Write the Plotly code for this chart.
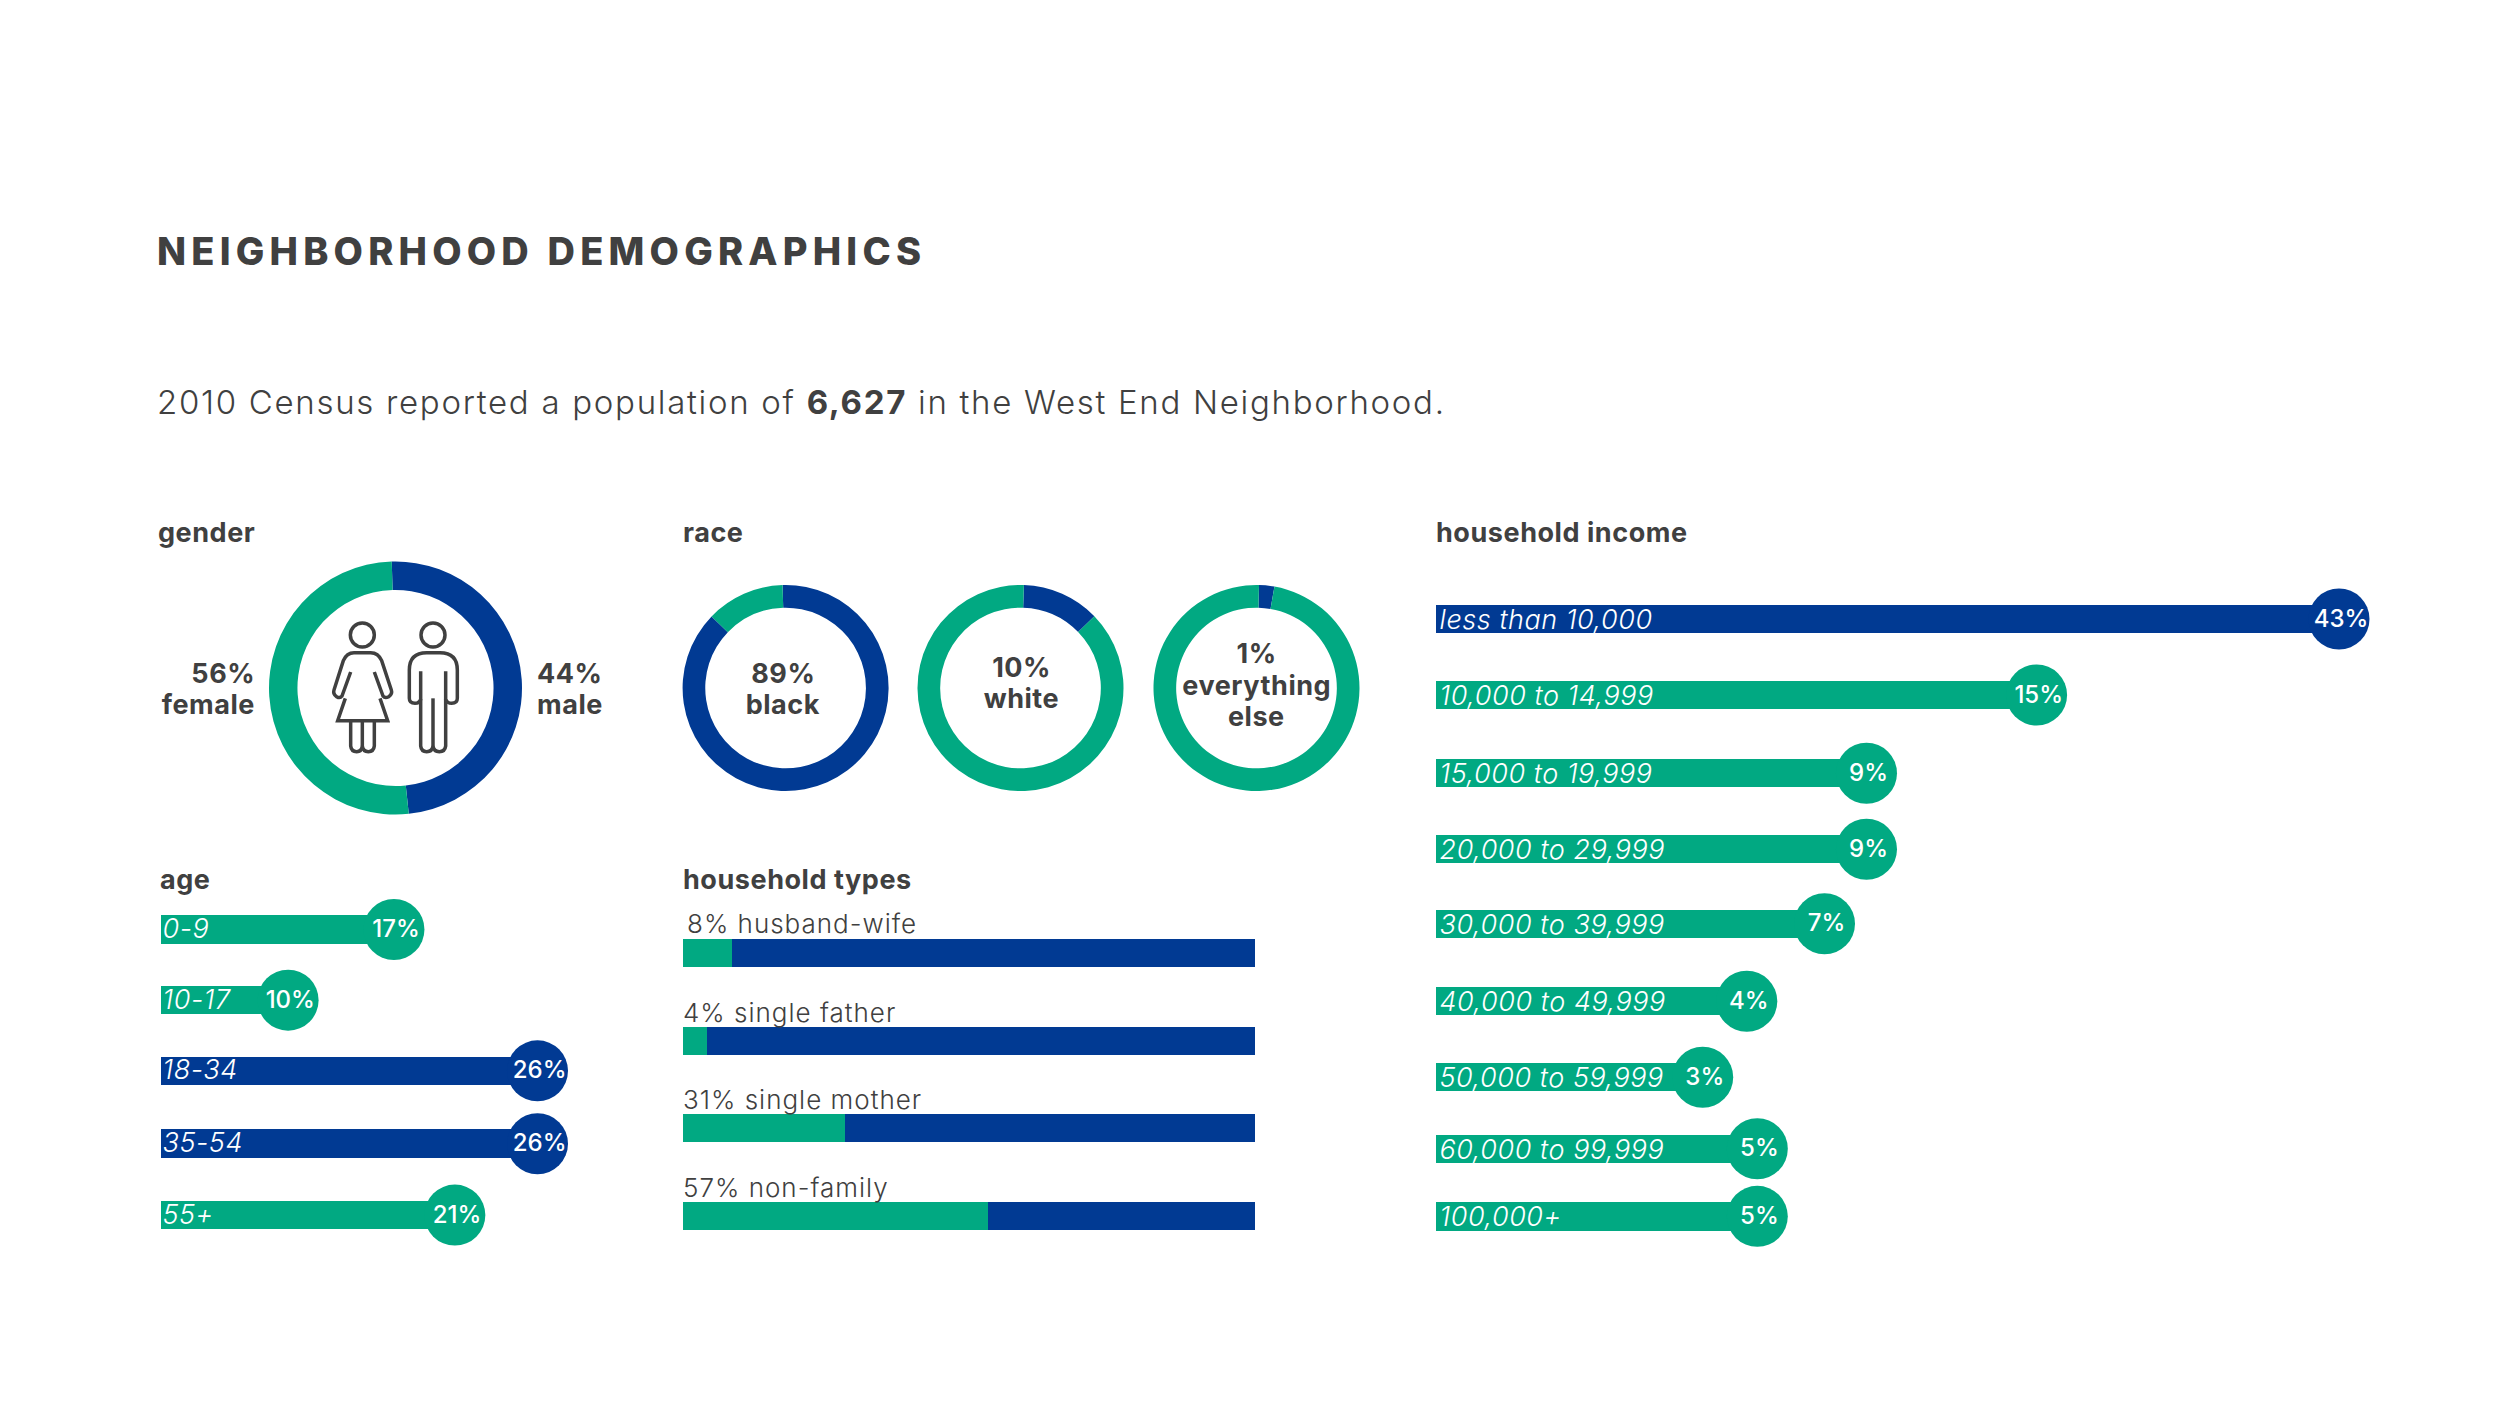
import plotly.graph_objects as go

W, H = 2500, 1406
GREEN = "#01A982"
BLUE = "#013A93"
INK = "#404040"
FONT = "Inter"

# ---------- data ----------
title_text = "NEIGHBORHOOD DEMOGRAPHICS"
subtitle_text = "2010 Census reported a population of <b>6,627</b> in the West End Neighborhood."

gender_labels = ["male", "female"]
gender_stated = [44, 56]
gender_drawn = [48.8, 51.2]

race_black_drawn = [87.7, 12.3]
race_white_drawn = [12.2, 87.8]
race_other_drawn = [2.4, 97.6]

age_groups = ["0-9", "10-17", "18-34", "35-54", "55+"]
age_stated = ["17%", "10%", "26%", "26%", "21%"]
age_drawn = [16.1, 8.8, 26.0, 26.0, 20.3]
age_rows = [0, 0.99, 1.98, 3.0, 4.0]
age_colors = [GREEN, GREEN, BLUE, BLUE, GREEN]

household_types = ["8% husband-wife", "4% single father", "31% single mother", "57% non-family"]
household_drawn = [8.7, 4.2, 28.3, 53.4]
household_rest = [91.3, 95.8, 71.7, 46.6]
household_rows = [0, 1, 1.99, 2.99]

income_groups = ["less than 10,000", "10,000 to 14,999", "15,000 to 19,999", "20,000 to 29,999",
                 "30,000 to 39,999", "40,000 to 49,999", "50,000 to 59,999", "60,000 to 99,999", "100,000+"]
income_stated = ["43%", "15%", "9%", "9%", "7%", "4%", "3%", "5%", "5%"]
income_drawn = [43.0, 28.6, 20.5, 20.5, 18.5, 14.8, 12.7, 15.3, 15.3]
income_rows = [0, 1, 2.03, 3.03, 4.01, 5.03, 6.03, 6.97, 7.86]
income_colors = [BLUE] + [GREEN] * 8

fig = go.Figure()


def pxx(x):
    return x / W


def pxy(y):
    return 1 - y / H


def panel(n, x0, scale, xunits, y0, pitch, nrows):
    """Axis pair n: x unit = scale px from x0; row 0 centred at y0, rows pitch px apart."""
    top = y0 - pitch / 2
    bottom = y0 + (nrows - 0.5) * pitch
    fig.layout[f"xaxis{n}"] = dict(domain=[pxx(x0), pxx(x0 + scale * xunits)], range=[0, xunits],
                                   visible=False, anchor=f"y{n}", fixedrange=True)
    fig.layout[f"yaxis{n}"] = dict(domain=[pxy(bottom), pxy(top)], range=[nrows - 0.5, -0.5],
                                   visible=False, anchor=f"x{n}", fixedrange=True)


def lollipop(n, names, stated, drawn, rows, colors, barw, label_x, name_dy, val_dy, name_size, val_size, val_dx):
    ax = dict(xaxis=f"x{n}", yaxis=f"y{n}")
    fig.add_trace(go.Bar(x=drawn, y=rows, orientation="h", width=barw, marker=dict(color=colors, line_width=0),
                         hoverinfo="skip", **ax))
    fig.add_trace(go.Scatter(x=drawn, y=rows, mode="markers", marker=dict(size=61, color=colors, line_width=0),
                             cliponaxis=False, hoverinfo="skip", **ax))
    fig.add_trace(go.Scatter(x=[d + val_dx for d in drawn], y=[r + val_dy for r in rows], mode="text", text=stated,
                             textposition="middle center", cliponaxis=False, hoverinfo="skip",
                             textfont=dict(family=FONT, size=val_size, color="white", weight=500), **ax))
    fig.add_trace(go.Scatter(x=[label_x] * len(names), y=[r + name_dy for r in rows], mode="text", text=names,
                             textposition="middle right", cliponaxis=False, hoverinfo="skip",
                             textfont=dict(family=FONT, size=name_size, color="white", style="italic", weight=300), **ax))


def donut(values, colors, cx, cy, r, hole, rotation):
    fig.add_trace(go.Pie(values=values, marker=dict(colors=colors, line_width=0), hole=hole, sort=False,
                         direction="clockwise", rotation=rotation, textinfo="none", hoverinfo="skip",
                         domain=dict(x=[pxx(cx - r), pxx(cx + r)], y=[pxy(cy + r), pxy(cy - r)])))


# ---------- donuts ----------
donut(gender_drawn, [BLUE, GREEN], 395.5, 688, 126.5, 0.775, -1.7)
donut(race_black_drawn, [BLUE, GREEN], 785.6, 688, 103, 0.78, -1.7)
donut(race_white_drawn, [BLUE, GREEN], 1020.5, 688, 103, 0.78, 1.9)
donut(race_other_drawn, [BLUE, GREEN], 1256.5, 688, 103, 0.78, 1.4)

# ---------- bars ----------
panel(1, 160.5, 14.5, 30, 929.5, 71.4, 5)
lollipop(1, age_groups, age_stated, age_drawn, age_rows, age_colors, 0.4, 0.14, 0.025, 0.02, 27, 24, 0.15)

panel(2, 1436, 21, 46, 619, 76, 9)
lollipop(2, income_groups, income_stated, income_drawn, income_rows, income_colors, 0.372, 0.17, 0.04, 0.02, 27, 24, 0.1)

panel(3, 682.5, 5.725, 100, 953, 88, 4)
fig.add_trace(go.Bar(x=household_drawn, y=household_rows, orientation="h", width=0.325,
                     marker=dict(color=GREEN, line_width=0), hoverinfo="skip", xaxis="x3", yaxis="y3"))
fig.add_trace(go.Bar(x=household_rest, y=household_rows, orientation="h", width=0.325,
                     marker=dict(color=BLUE, line_width=0), hoverinfo="skip", xaxis="x3", yaxis="y3"))


# ---------- text ----------
def label(text, x, y, size=27, bold=True, anchor="left", weight=None):
    w = weight if weight else (700 if bold else 400)
    fig.add_annotation(text=text, x=pxx(x), y=pxy(y), xref="paper", yref="paper", showarrow=False,
                       xanchor=anchor, yanchor="middle", align=anchor,
                       font=dict(family=FONT, size=size, color=INK, weight=w))


label(subtitle_text, 155, 402, size=33, weight=300)
for txt, x, y in [("gender", 156, 532), ("age", 158, 879), ("race", 681, 532),
                  ("household types", 681, 879), ("household income", 1434, 532)]:
    label(txt, x, y)
label("56%", 257, 673, anchor="right")
label("female", 257, 705, anchor="right")
label("44%", 535, 673)
label("male", 535, 705)
label("89%", 783, 673, anchor="center")
label("black", 783, 705, anchor="center")
label("10%", 1021, 667, anchor="center")
label("white", 1021, 698, anchor="center")
label("1%", 1256, 653, anchor="center")
label("everything", 1256, 685, anchor="center")
label("else", 1256, 716, anchor="center")
for txt, x, y in zip(household_types, [685, 681, 681, 681], [923, 1012, 1099, 1187]):
    label(txt, x, y, size=26, weight=300)


# ---------- person icons (pictogram, not data) ----------
def icon_x(X):
    return pxx(130 + X / 3)


def icon_y(Y):
    return pxy(500 + Y / 3)


def path(*cmds):
    out = []
    for c in cmds:
        letter, *pts = c
        coords = " ".join(f"{icon_x(pts[i]):.5f},{icon_y(pts[i + 1]):.5f}" for i in range(0, len(pts), 2))
        out.append(f"{letter} {coords}")
    return " ".join(out)


female = [
    path(("M", 662, 516), ("L", 636, 588), ("Q", 630, 596, 620, 590), ("Q", 608, 582, 612, 570),
         ("L", 640, 482), ("Q", 650, 458, 672, 458), ("L", 722, 458), ("Q", 745, 458, 755, 482),
         ("L", 784, 570), ("Q", 788, 582, 776, 590), ("Q", 765, 596, 759, 588), ("L", 733, 516)),
    path(("M", 646, 595), ("L", 623, 662), ("L", 773, 662), ("L", 750, 595)),
    path(("M", 662, 662), ("L", 662, 738), ("Q", 664, 755, 680, 755), ("Q", 695, 755, 697, 738),
         ("Q", 699, 755, 715, 755), ("Q", 731, 755, 733, 738), ("L", 733, 662)),
    path(("M", 697, 738), ("L", 697, 662)),
]
male = [
    path(("M", 872, 514), ("L", 872, 598), ("Q", 868, 610, 855, 610), ("Q", 838, 610, 838, 595),
         ("L", 838, 510), ("Q", 838, 458, 890, 458), ("L", 930, 458), ("Q", 982, 458, 982, 510),
         ("L", 982, 595), ("Q", 982, 610, 965, 610), ("Q", 952, 610, 947, 598), ("L", 947, 514)),
    path(("M", 872, 598), ("L", 872, 738), ("Q", 874, 755, 890, 755), ("Q", 907, 755, 909, 738),
         ("Q", 911, 755, 928, 755), ("Q", 945, 755, 947, 738), ("L", 947, 598)),
    path(("M", 909, 738), ("L", 909, 595)),
]
shapes = []
for d in female + male:
    shapes.append(dict(type="path", xref="paper", yref="paper", path=d, line=dict(color=INK, width=3.5)))
for X in (697, 909):
    shapes.append(dict(type="circle", xref="paper", yref="paper", x0=icon_x(X - 36), x1=icon_x(X + 36),
                       y0=icon_y(405 + 36), y1=icon_y(405 - 36), line=dict(color=INK, width=3.5)))

fig.update_layout(
    width=W, height=H, autosize=False, margin=dict(l=0, r=0, t=0, b=0, pad=0),
    paper_bgcolor="white", plot_bgcolor="rgba(0,0,0,0)", showlegend=False, barmode="stack",
    shapes=shapes,
    title=dict(text=title_text, x=pxx(157), xref="paper", xanchor="left", y=pxy(252), yref="paper", yanchor="middle",
               font=dict(family=FONT, size=38, color=INK, weight=800)),
)

# Plotly has no letter-spacing attribute: apply tracking to the text by its font size.
tracking = """
document.body.style.margin = '0';
var track = {'38px': '5.2px', '33px': '1.7px', '27px': '0.55px', '26px': '1px'};
document.querySelectorAll('.main-svg text, .infolayer text').forEach(function (t) {
  var s = track[t.style.fontSize];
  if (s) { t.style.letterSpacing = s; }
});
"""
fig.write_html("out.html", post_script=tracking, config={"displayModeBar": False})
